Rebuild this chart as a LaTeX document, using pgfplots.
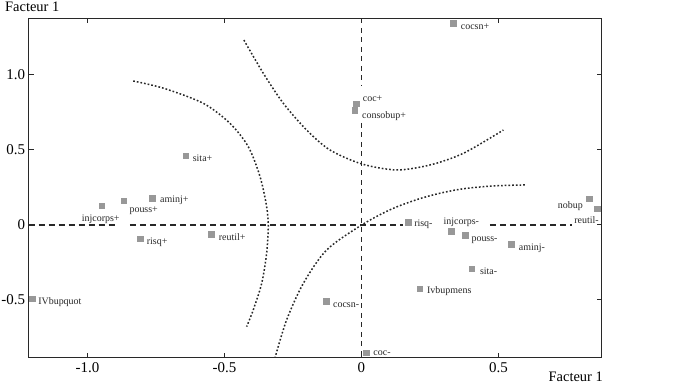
\documentclass[border=0pt]{standalone}
\usepackage{pgfplots}
\pgfplotsset{compat=1.18}
\usepackage{fontspec}
\setmainfont{Liberation Serif}
\definecolor{markgray}{RGB}{152,152,152}
\definecolor{framec}{RGB}{40,40,40}
\tikzset{lbl/.style={anchor=base west, inner sep=0pt, font=\fontsize{10}{12}\selectfont, text=framec}}

\begin{document}
\begin{tikzpicture}
\begin{axis}[
  scale only axis, width=573bp, height=339.4bp,
  xmin=-1.215, xmax=0.876, ymin=-0.885, ymax=1.378,
  axis line style={line width=1.1bp, framec},
  tick align=inside, major tick length=5bp,
  tick style={line width=1bp, framec},
  xtick={-1,-0.5,0,0.5}, xticklabels={-1.0,-0.5,0,0.5},
  ytick={-0.5,0,0.5,1}, yticklabels={-0.5,0,0.5,1.0},
  ticklabel style={font=\fontsize{15}{17}\selectfont},
  xticklabel style={yshift=-1.5bp},
  xlabel={Facteur 1}, ylabel={Facteur 1},
  every axis x label/.style={at={(axis description cs:1,0)}, anchor=north east, inner sep=0pt, xshift=1.5bp, yshift=-14.5bp, font=\fontsize{14.5}{17}\selectfont},
  every axis y label/.style={at={(axis description cs:0,1)}, anchor=west, inner sep=0pt, xshift=-23.5bp, yshift=11.8bp, font=\fontsize{14.5}{17}\selectfont},
]
% dashed axes through the origin
\addplot[framec, line width=1.3bp, dash pattern=on 6bp off 4bp] coordinates {(-1.215,0) (-0.899,0)};
\addplot[framec, line width=1.3bp, dash pattern=on 6bp off 4bp] coordinates {(-0.845,0) (0.151,0)};
\addplot[framec, line width=1.3bp, dash pattern=on 6bp off 4bp] coordinates {(0.469,0) (0.767,0)};
\addplot[framec, line width=1.3bp, dash pattern=on 5bp off 4.5bp] coordinates {(0,1.378) (0,0.927)};
\addplot[framec, line width=1.3bp, dash pattern=on 5bp off 4.5bp] coordinates {(0,0.68) (0,-0.885)};

% dotted curves
\addplot[framec, line width=1.5bp, dash pattern=on 1.7bp off 2bp, smooth] coordinates {
(-0.833,0.96) (-0.721,0.911) (-0.577,0.811) (-0.480,0.678) (-0.413,0.522) (-0.370,0.322)
(-0.346,0.122) (-0.340,-0.011) (-0.346,-0.189) (-0.364,-0.389) (-0.395,-0.567) (-0.419,-0.678)};
\addplot[framec, line width=1.5bp, dash pattern=on 1.7bp off 2bp, smooth] coordinates {
(-0.429,1.233) (-0.358,1.011) (-0.285,0.811) (-0.2,0.633) (-0.115,0.5) (0.001,0.407)
(0.128,0.367) (0.25,0.4) (0.372,0.478) (0.518,0.633)};
\addplot[framec, line width=1.5bp, dash pattern=on 1.7bp off 2bp, smooth] coordinates {
(-0.316,-0.889) (-0.273,-0.633) (-0.212,-0.389) (-0.127,-0.167) (0.001,0) (0.116,0.111)
(0.238,0.189) (0.359,0.238) (0.481,0.26) (0.603,0.267)};

% points
\addplot[only marks, mark=square*, mark size=2.75bp, color=markgray] coordinates {
(0.335,1.345) (-0.02,0.809) (-0.024,0.765) (-0.642,0.462) (-0.763,0.18) (-0.867,0.162)
(-0.948,0.129) (-0.807,-0.091) (-0.548,-0.062) (-1.201,-0.493) (0.171,0.02) (0.327,-0.042)
(0.378,-0.069) (0.546,-0.129) (0.403,-0.293) (0.213,-0.424) (-0.128,-0.509) (0.018,-0.853)
(0.831,0.176) (0.861,0.107)};

% labels
\node[lbl] at (axis cs:0.362,1.303) {cocsn+};
\node[lbl] at (axis cs:0.0044,0.82) {coc+};
\node[lbl] at (axis cs:0.0018,0.713) {consobup+};
\node[lbl] at (axis cs:-0.616,0.425) {sita+};
\node[lbl] at (axis cs:-0.735,0.151) {aminj+};
\node[lbl] at (axis cs:-0.847,0.082) {pouss+};
\node[lbl] at (axis cs:-1.021,0.025) {injcorps+};
\node[lbl] at (axis cs:-0.784,-0.127) {risq+};
\node[lbl] at (axis cs:-0.521,-0.103) {reutil+};
\node[lbl] at (axis cs:-1.180,-0.527) {IVbupquot};
\node[lbl] at (axis cs:0.192,-0.01) {risq-};
\node[lbl] at (axis cs:0.299,0.005) {injcorps-};
\node[lbl] at (axis cs:0.401,-0.107) {pouss-};
\node[lbl] at (axis cs:0.574,-0.167) {aminj-};
\node[lbl] at (axis cs:0.432,-0.329) {sita-};
\node[lbl] at (axis cs:0.239,-0.46) {Ivbupmens};
\node[lbl] at (axis cs:-0.104,-0.553) {cocsn-};
\node[lbl] at (axis cs:0.043,-0.87) {coc-};
\node[lbl] at (axis cs:0.716,0.113) {nobup};
\node[lbl] at (axis cs:0.776,0.013) {reutil-};
\end{axis}
\pgfresetboundingbox
\path (-28.5bp,-26.3bp) rectangle (671.5bp,357.7bp);
\end{tikzpicture}
\end{document}
